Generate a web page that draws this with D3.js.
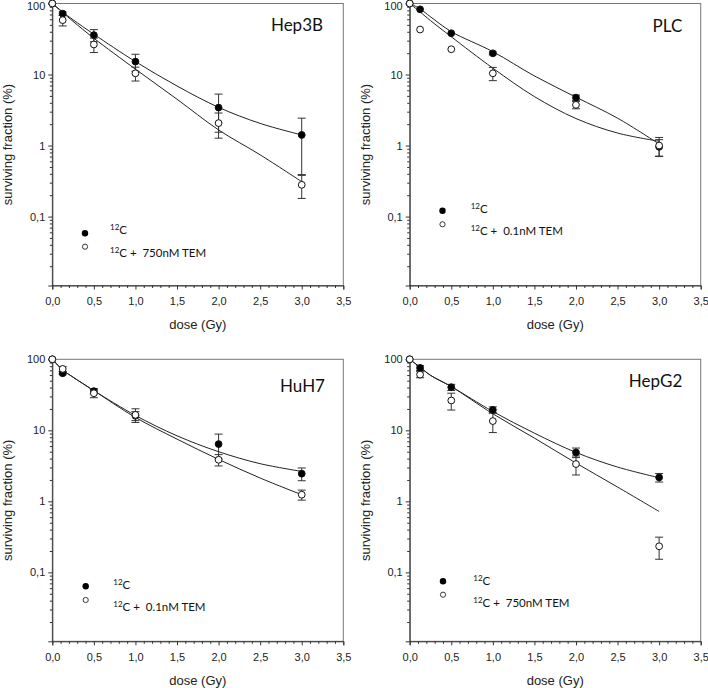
<!DOCTYPE html>
<html><head><meta charset="utf-8">
<script src="https://cdn.jsdelivr.net/npm/d3@7"></script>
<style>body{margin:0;background:#fff}</style>
</head><body>
<svg id="chart" width="708" height="688" xmlns="http://www.w3.org/2000/svg"></svg>
<script>
// ---------- data ----------
const cellLines = ["Hep3B", "PLC", "HuH7", "HepG2"];
const treatmentLabels = ["750nM TEM", "0.1nM TEM", "0.1nM TEM", "750nM TEM"];
const doses = [0, 0.125, 0.5, 1, 2, 3];
const curveDoses = [0, 0.125, 0.25, 0.5, 1, 1.5, 2, 2.5, 3];

// measured surviving fraction (%) — 12C alone
const c12Values = [
  [100, 72, 35.9, 15.2, 3.42, 1.41],
  [100, 82.8, 38.1, 19.9, 4.73, 0.96],
  [100, 63.6, 35.6, 16.0, 6.4, 2.45],
  [100, 75.6, 40.4, 19.4, 4.88, 2.17]
];
const c12Errors = [
  [0, 4, 7, 4.1, 1.88, 1.02],
  [0, 0, 0, 1, 0.4, 0.25],
  [0, 3, 3, 2.3, 2.45, 0.5],
  [0, 6, 4, 2, 0.75, 0.3]
];
// 12C + TEM
const temValues = [
  [100, 58.3, 26.5, 10.4, 2.07, 0.28],
  [100, 43, 22.7, 10.4, 3.74, 1.0],
  [100, 73.2, 33.3, 16.5, 3.85, 1.24],
  [100, 60.9, 26.3, 13.5, 3.35, 0.233]
];
const temErrors = [
  [0, 10, 6.1, 2.3, 0.8, 0.1],
  [0, 0, 0, 2.2, 0.45, 0.3],
  [0, 5.6, 4.5, 3.6, 0.7, 0.2],
  [0, 6, 7, 4.2, 1.0, 0.08]
];
// fitted curves at curveDoses
const c12Curve = [
  [100, 76, 59, 36.9, 15.2, 6.9, 3.45, 2.05, 1.41],
  [100, 84, 65, 40.2, 21, 9.55, 4.8, 2.43, 1.05],
  [100, 70.8, 56, 36.2, 16.2, 8.37, 5.0, 3.39, 2.64],
  [100, 77.3, 59.5, 41.3, 18.4, 9.12, 4.88, 3.04, 2.15]
];
const temCurve = [
  [100, 74.5, 56, 32.4, 11.9, 4.49, 1.66, 0.74, 0.31],
  [100, 76, 57.5, 34, 12.3, 4.89, 2.4, 1.5, 1.15],
  [100, 70.8, 56, 36.2, 15.2, 7.52, 3.9, 2.13, 1.24],
  [100, 77.3, 59.5, 41.3, 17.1, 7.77, 3.46, 1.59, 0.72]
];
const xTickValues = [0, 0.5, 1, 1.5, 2, 2.5, 3, 3.5];
const yTickValues = [100, 10, 1, 0.1];
const yTickLabels = ["100", "10", "1", "0,1"];

// ---------- layout ----------
const W = 291, H = 282;
const panelPos = [[52.3, 3.5], [409.7, 3.5], [52.3, 359.3], [409.7, 359.3]];
const labelPos = [[270.7, 27.5], [272.6, 28.8], [272.7, 33], [272.6, 27.4]];
// [markerX, filledY, openY, textX, base1, base2]
const legendPos = [
  [32.7, 229.8, 243.2, 57.7, 230.8, 253.8],
  [32.8, 207.2, 220.8, 61, 209.8, 231.5],
  [33.4, 227, 240.7, 61, 229.7, 251.4],
  [33.3, 222, 235.4, 63.6, 225.4, 248]
];
const axisFont = "'Liberation Sans', Arial, sans-serif";
const legendFont = "Lato, 'Open Sans', sans-serif";
const fmt = d3.formatLocale({decimal: ",", thousands: ".", grouping: [3], currency: ["", ""]}).format(".1f");

const svg = d3.select("#chart");
const x = d3.scaleLinear().domain([0, 3.5]).range([0, W]);
const y = d3.scaleLog().domain([0.0107, 100]).range([H, 0]);

const minorY = [];
[0.01, 0.1, 1, 10].forEach(d => { for (let k = 2; k <= 9; k++) { const v = k * d; if (v > 0.0107 && v < 100) minorY.push(v); } });
const minorX = d3.range(0, 36).map(i => i / 10).filter(v => Math.abs(v * 2 - Math.round(v * 2)) > 1e-6);

cellLines.forEach((name, i) => {
  const [px, py] = panelPos[i];
  const g = svg.append("g").attr("transform", `translate(${px},${py})`);

  // frame
  g.append("rect").attr("width", W).attr("height", H)
    .attr("fill", "none").attr("stroke", "#777").attr("stroke-width", 1);

  // axes
  g.append("g").attr("transform", `translate(0,${H})`)
    .call(d3.axisBottom(x).tickValues(xTickValues).tickSize(4).tickPadding(8).tickFormat(fmt));
  g.append("g").attr("transform", `translate(0,${H})`)
    .call(d3.axisBottom(x).tickValues(minorX).tickSize(2.5).tickFormat(""))
    .select(".domain").remove();
  const ay = g.append("g")
    .call(d3.axisLeft(y).tickValues(yTickValues).tickSize(4).tickPadding(3)
      .tickFormat((d, j) => yTickLabels[j]));
  g.append("g")
    .call(d3.axisLeft(y).tickValues(minorY).tickSize(2.5).tickFormat(""))
    .select(".domain").remove();
  g.selectAll(".domain").attr("stroke", "#333");
  g.selectAll(".tick line").attr("stroke", "#333");
  g.selectAll(".tick text").attr("font-family", axisFont).attr("font-size", 11).attr("fill", "#222");
  if (py < 10) ay.selectAll(".tick text").filter(d => d === 100).attr("dy", "0.5em");

  // axis titles
  g.append("text").attr("x", W / 2).attr("y", H + 43.5).attr("text-anchor", "middle")
    .attr("font-family", axisFont).attr("font-size", 13).attr("fill", "#222").text("dose (Gy)");
  g.append("text").attr("transform", `translate(-40,${H / 2}) rotate(-90)`).attr("text-anchor", "middle")
    .attr("font-family", axisFont).attr("font-size", 13).attr("fill", "#222").text("surviving fraction (%)");

  // cell line label
  g.append("text").attr("x", labelPos[i][0]).attr("y", labelPos[i][1]).attr("text-anchor", "end")
    .attr("font-family", legendFont).attr("font-size", 17).attr("fill", "#111").text(name);

  // curves
  const line = d3.line().x(d => x(d[0])).y(d => y(d[1])).curve(d3.curveCatmullRom.alpha(0.5));
  [c12Curve[i], temCurve[i]].forEach(c => {
    g.append("path").datum(curveDoses.map((d, j) => [d, c[j]]))
      .attr("d", line).attr("fill", "none").attr("stroke", "#222").attr("stroke-width", 1);
  });

  // error bars
  const series = [
    {vals: c12Values[i], errs: c12Errors[i], fill: "#000"},
    {vals: temValues[i], errs: temErrors[i], fill: "#fff"}
  ];
  series.forEach(s => {
    doses.forEach((d, j) => {
      const e = s.errs[j];
      if (!e) return;
      const v = s.vals[j];
      const hi = y(v + e), lo = y(Math.max(v - e, 0.0107));
      const cx = x(d);
      const eg = g.append("g").attr("stroke", "#333").attr("stroke-width", 1);
      eg.append("line").attr("x1", cx).attr("x2", cx).attr("y1", hi).attr("y2", lo);
      eg.append("line").attr("x1", cx - 4).attr("x2", cx + 4).attr("y1", hi).attr("y2", hi);
      eg.append("line").attr("x1", cx - 4).attr("x2", cx + 4).attr("y1", lo).attr("y2", lo);
    });
  });
  // points
  series.forEach(s => {
    g.append("g").selectAll("circle").data(doses.map((d, j) => [d, s.vals[j]])).join("circle")
      .attr("cx", d => x(d[0])).attr("cy", d => y(d[1])).attr("r", 3.4)
      .attr("fill", s.fill).attr("stroke", "#111").attr("stroke-width", 1);
  });

  // legend
  const [lx, fy, oy, tx, b1, b2] = legendPos[i];
  g.append("circle").attr("cx", lx).attr("cy", fy).attr("r", 3.2).attr("fill", "#000");
  g.append("circle").attr("cx", lx).attr("cy", oy).attr("r", 2.6).attr("fill", "#fff")
    .attr("stroke", "#222").attr("stroke-width", 0.9);
  [[b1, "C"], [b2, "C +\u00a0 " + treatmentLabels[i]]].forEach(([by, rest]) => {
    const t = g.append("text").attr("x", tx).attr("y", by)
      .attr("font-family", legendFont).attr("font-size", 11.5).attr("fill", "#111");
    t.append("tspan").attr("font-size", 8).attr("dy", -4).text("12");
    t.append("tspan").attr("dy", 4).text(rest);
  });
});
</script>
</body></html>
